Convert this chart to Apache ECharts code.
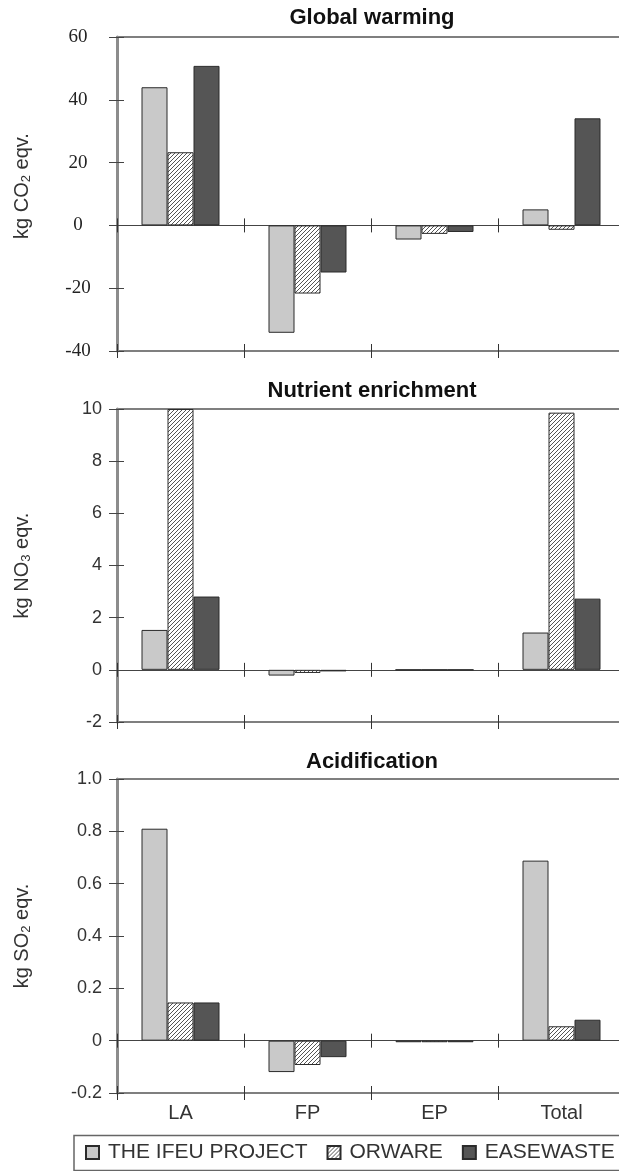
<!DOCTYPE html>
<html>
<head>
<meta charset="utf-8">
<script src="https://cdn.jsdelivr.net/npm/echarts@6/dist/echarts.min.js"></script>
<style>
html,body{margin:0;padding:0;background:#fff;}
#chart{width:619px;height:1171px;}
</style>
</head>
<body>
<div id="chart"></div>
<script>
// ---- data ----
var categories = ['LA', 'FP', 'EP', 'Total'];
var seriesNames = ['THE IFEU PROJECT', 'ORWARE', 'EASEWASTE'];
var panelTitles = ['Global warming', 'Nutrient enrichment', 'Acidification'];

var gwIfeu      = [44.0, -34.2, -4.5, 5.1];
var gwOrware    = [23.3, -21.7, -2.7, -1.4];
var gwEasewaste = [50.8, -15.0, -2.1, 34.1];

var neIfeu      = [1.53, -0.22, 0, 1.43];
var neOrware    = [10.0, -0.12, 0, 9.86];
var neEasewaste = [2.81, -0.06, 0, 2.73];

var acIfeu      = [0.81, -0.12, -0.006, 0.688];
var acOrware    = [0.146, -0.093, -0.006, 0.055];
var acEasewaste = [0.146, -0.063, -0.006, 0.08];

var yMin = [-40, -2, -0.2];
var yMax = [60, 10, 1.0];
var yInterval = [20, 2, 0.2];
var yNames = ['kg CO{s|2} eqv.', 'kg NO{s|3} eqv.', 'kg SO{s|2} eqv.'];

var panelData = [
  [gwIfeu, gwOrware, gwEasewaste],
  [neIfeu, neOrware, neEasewaste],
  [acIfeu, acOrware, acEasewaste]
];

// ---- styling ----
function makeHatch() {
  var n = 4;
  var c = document.createElement('canvas');
  c.width = n; c.height = n;
  var ctx = c.getContext('2d');
  ctx.fillStyle = '#ffffff';
  ctx.fillRect(0, 0, n, n);
  ctx.strokeStyle = '#555555';
  ctx.lineWidth = 1;
  ctx.beginPath();
  ctx.moveTo(0, n); ctx.lineTo(n, 0);
  ctx.moveTo(-1, 1); ctx.lineTo(1, -1);
  ctx.moveTo(n - 1, n + 1); ctx.lineTo(n + 1, n - 1);
  ctx.stroke();
  return c;
}
var hatch = makeHatch();
var seriesFills = ['#c9c9c9', { image: hatch, repeat: 'repeat' }, '#555555'];

var SANS = 'Liberation Sans, Arial, sans-serif';
var SERIF = 'Liberation Serif, Times New Roman, serif';

var gridLeft = 117, gridWidth = 508;
var gridTops = [37, 409, 779];
var gridHeights = [314, 313, 314];
var namePads = [[0, 0, 0, 16], [0, 0, 0, 0], [0, 0, 0, 0]];

var grids = [], xAxes = [], yAxes = [], series = [], graphics = [];

for (var g = 0; g < 3; g++) {
  grids.push({
    left: gridLeft, top: gridTops[g], width: gridWidth, height: gridHeights[g],
    show: true, borderColor: '#555', borderWidth: 1.5, backgroundColor: 'transparent',
    containLabel: false, outerBoundsMode: 'none'
  });

  var labelFmt = (function (gi) {
    return function (v) {
      if (Math.abs(v) < 1e-9) return '0';
      if (gi === 2) return v.toFixed(1);
      return String(Math.round(v));
    };
  })(g);

  // main y axis: line, outside ticks, labels, name
  yAxes.push({
    type: 'value', gridIndex: g, position: 'left',
    min: yMin[g], max: yMax[g], interval: yInterval[g],
    splitLine: { show: false },
    axisLine: { show: true, onZero: false, lineStyle: { color: '#8c8c8c', width: 3 } },
    axisTick: { show: true, inside: false, length: 8, lineStyle: { color: '#444', width: 1 } },
    axisLabel: g === 0 ? {
      formatter: labelFmt, fontFamily: SERIF, fontSize: 19, color: '#222',
      align: 'center', margin: 39
    } : {
      formatter: labelFmt, fontFamily: SANS, fontSize: 18, color: '#333', margin: 15
    },
    name: yNames[g], nameLocation: 'middle', nameGap: 84, nameRotate: 90,
    nameTextStyle: {
      fontFamily: SANS, fontSize: 20, color: '#333', lineHeight: 22,
      padding: namePads[g],
      rich: { s: { fontFamily: SANS, fontSize: 13, lineHeight: 8, verticalAlign: 'bottom', color: '#333' } }
    }
  });
  // second y axis: inside ticks only
  yAxes.push({
    type: 'value', gridIndex: g, position: 'left',
    min: yMin[g], max: yMax[g], interval: yInterval[g],
    splitLine: { show: false },
    axisLine: { show: false, onZero: false },
    axisTick: { show: true, inside: true, length: 7, lineStyle: { color: '#444', width: 1 } },
    axisLabel: { show: false }
  });

  var xBase = {
    type: 'category', gridIndex: g, data: categories, boundaryGap: true,
    splitLine: { show: false }
  };
  // zero line, outside ticks
  xAxes.push(Object.assign({}, xBase, {
    position: 'bottom',
    axisLine: { show: true, onZero: true, lineStyle: { color: '#444', width: 1.2 } },
    axisTick: { show: true, inside: false, length: 7, interval: 0, lineStyle: { color: '#333', width: 1 } },
    axisLabel: { show: false }
  }));
  // zero line, inside ticks
  xAxes.push(Object.assign({}, xBase, {
    position: 'bottom',
    axisLine: { show: false, onZero: true },
    axisTick: { show: true, inside: true, length: 7, interval: 0, lineStyle: { color: '#333', width: 1 } },
    axisLabel: { show: false }
  }));
  // bottom, outside ticks (+ labels on last panel)
  xAxes.push(Object.assign({}, xBase, {
    position: 'bottom',
    axisLine: { show: false, onZero: false },
    axisTick: { show: true, inside: false, length: 7, interval: 0, lineStyle: { color: '#333', width: 1 } },
    axisLabel: g === 2 ? { show: true, interval: 0, fontFamily: SANS, fontSize: 20, color: '#333', margin: 10 } : { show: false }
  }));
  // bottom, inside ticks
  xAxes.push(Object.assign({}, xBase, {
    position: 'bottom',
    axisLine: { show: false, onZero: false },
    axisTick: { show: true, inside: true, length: 7, interval: 0, lineStyle: { color: '#333', width: 1 } },
    axisLabel: { show: false }
  }));

  for (var s = 0; s < 3; s++) {
    series.push({
      type: 'bar', name: seriesNames[s],
      xAxisIndex: g * 4, yAxisIndex: g * 2,
      data: panelData[g][s],
      barWidth: 26, barGap: '0%',
      itemStyle: { color: seriesFills[s], borderColor: '#2b2b2b', borderWidth: 1 },
      emphasis: { disabled: true },
      animation: false
    });
  }

  graphics.push({
    type: 'text', x: gridLeft + 255, y: [18, 391, 762][g],
    style: {
      text: panelTitles[g], fill: '#111', align: 'center', verticalAlign: 'middle',
      font: 'bold 22px ' + SANS
    }
  });
}

// legend frame
graphics.push({
  type: 'rect', shape: { x: 74, y: 1135.5, width: 600, height: 35 },
  style: { fill: 'none', stroke: '#666', lineWidth: 1.5 }
});

var chart = echarts.init(document.getElementById('chart'), null, { renderer: 'canvas' });
chart.setOption({
  backgroundColor: '#ffffff',
  animation: false,
  grid: grids,
  xAxis: xAxes,
  yAxis: yAxes,
  series: series,
  graphic: graphics,
  legend: {
    data: seriesNames,
    left: 85, top: 1142, padding: 0,
    itemWidth: 13, itemHeight: 13, itemGap: 19,
    icon: 'rect',
    textStyle: { fontFamily: SANS, fontSize: 21, color: '#333', padding: [0, 0, 0, 4] }
  }
});
</script>
</body>
</html>
